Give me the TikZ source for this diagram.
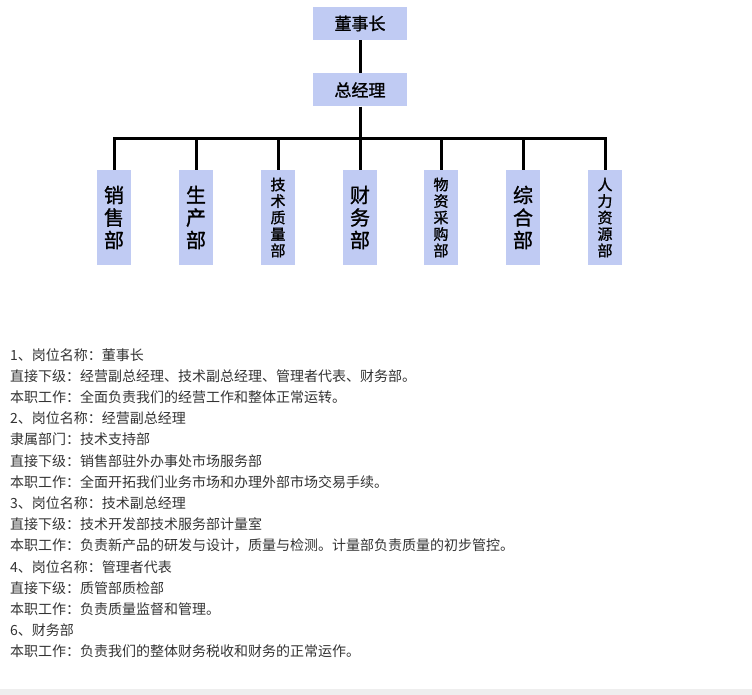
\documentclass[tikz,border=0pt]{standalone}
\usepackage{fontspec}
\setmainfont{Noto Sans CJK SC}
\newfontfamily\boxfont[FakeBold=1.2]{Noto Sans CJK SC}
\definecolor{boxblue}{HTML}{C0CBF3}
\definecolor{txtgray}{HTML}{333333}
\definecolor{barg}{HTML}{EEEEEE}
\begin{document}
\begin{tikzpicture}[x=1pt,y=-1pt,
  topbox/.style={fill=boxblue,draw=none,inner sep=0pt,minimum width=94pt,minimum height=33pt,font=\boxfont\fontsize{17}{17}\selectfont},
  deptbox/.style={fill=boxblue,draw=none,inner sep=0pt,minimum width=34pt,minimum height=95pt,align=center},
  big/.style={font=\boxfont\fontsize{20}{22.5}\selectfont},
  small/.style={font=\boxfont\fontsize{15}{16.5}\selectfont},
  conn/.style={line width=3pt,black},
  desc/.style={anchor=base west,inner sep=0pt,text=txtgray,font=\fontsize{14}{14}\selectfont}]
\useasboundingbox (0,0) rectangle (752,695);
\fill[barg] (0,689) rectangle (752,695);
\node[topbox] (chair) at (360,23.5) {董事长};
\node[topbox] (gm) at (360,90) {总经理};
\coordinate (bus) at (360,139);
\node[deptbox,big] (sales) at (114,217.5) {销\\售\\部};
\node[deptbox,big] (prod) at (196,217.5) {生\\产\\部};
\node[deptbox,small] (tech) at (278,217.5) {技\\术\\质\\量\\部};
\node[deptbox,big] (fin) at (360,217.5) {财\\务\\部};
\node[deptbox,small] (purch) at (441,217.5) {物\\资\\采\\购\\部};
\node[deptbox,big] (gen) at (523,217.5) {综\\合\\部};
\node[deptbox,small] (hr) at (605,217.5) {人\\力\\资\\源\\部};
\draw[conn] (chair) -- (gm);
\draw[conn] (gm) -- (fin);
\draw[conn] (sales.north) -- (sales.north |- bus) -- (hr.north |- bus) -- (hr.north);
\draw[conn] (prod.north) -- (prod.north |- bus);
\draw[conn] (tech.north) -- (tech.north |- bus);
\draw[conn] (purch.north) -- (purch.north |- bus);
\draw[conn] (gen.north) -- (gen.north |- bus);
\node[desc] (l1) at (10,360) {1、岗位名称：董事长};
\node[desc] (l2) at (10,381.2) {直接下级：经营副总经理、技术副总经理、管理者代表、财务部。};
\node[desc] (l3) at (10,402.4) {本职工作：全面负责我们的经营工作和整体正常运转。};
\node[desc] (l4) at (10,423.6) {2、岗位名称：经营副总经理};
\node[desc] (l5) at (10,444.8) {隶属部门：技术支持部};
\node[desc] (l6) at (10,466) {直接下级：销售部驻外办事处市场服务部};
\node[desc] (l7) at (10,487.2) {本职工作：全面开拓我们业务市场和办理外部市场交易手续。};
\node[desc] (l8) at (10,508.4) {3、岗位名称：技术副总经理};
\node[desc] (l9) at (10,529.6) {直接下级：技术开发部技术服务部计量室};
\node[desc] (l10) at (10,550.8) {本职工作：负责新产品的研发与设计，质量与检测。计量部负责质量的初步管控。};
\node[desc] (l11) at (10,572) {4、岗位名称：管理者代表};
\node[desc] (l12) at (10,593.2) {直接下级：质管部质检部};
\node[desc] (l13) at (10,614.4) {本职工作：负责质量监督和管理。};
\node[desc] (l14) at (10,635.6) {6、财务部};
\node[desc] (l15) at (10,656.8) {本职工作：负责我们的整体财务税收和财务的正常运作。};
\end{tikzpicture}
\end{document}
